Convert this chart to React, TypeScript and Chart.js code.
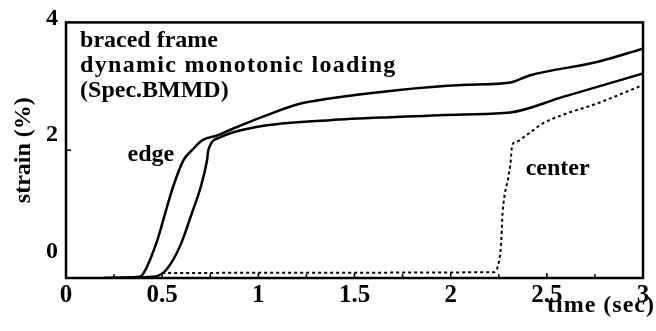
import React, { useEffect, useRef } from "react";
import { Chart, registerables } from "chart.js";

Chart.register(...registerables);

const FONT = "'Liberation Serif', 'Times New Roman', serif";

// tick labels
const xTickValues = [0, 0.5, 1, 1.5, 2, 2.5, 3];
const xMinorTickValues = [0.25, 0.5, 0.75, 1, 1.25, 1.5, 1.75, 2, 2.25, 2.5, 2.75];
const yTickValues = [0, 2, 4];
const yInnerTickValues = [2];

// edge (left solid curve)
const edgeTime = [0.2, 0.38, 0.4, 0.47, 0.525, 0.556, 0.61, 0.655, 0.71, 0.785, 0.87, 1.045, 1.22, 1.37, 1.72, 2.06, 2.31, 2.41, 2.76, 3.0];
const edgeStrain = [0, 0.02, 0.06, 0.55, 1.11, 1.42, 1.84, 2.0, 2.16, 2.23, 2.34, 2.55, 2.73, 2.81, 2.94, 3.02, 3.06, 3.17, 3.38, 3.59];

// second solid curve
const edge2Time = [0.2, 0.45, 0.505, 0.556, 0.6, 0.655, 0.7, 0.733, 0.74, 0.8, 0.87, 1.045, 1.37, 1.72, 2.06, 2.31, 2.58, 3.0];
const edge2Strain = [0, 0.02, 0.08, 0.28, 0.55, 1.02, 1.42, 1.84, 2.0, 2.2, 2.28, 2.39, 2.47, 2.52, 2.56, 2.59, 2.83, 3.2];

// center (dotted curve)
const centerTime = [0.5, 2.22, 2.26, 2.27, 2.3, 2.31, 2.32, 2.34, 2.41, 2.48, 2.58, 2.76, 3.0];
const centerStrain = [0.08, 0.09, 0.44, 1.02, 1.58, 1.77, 2.08, 2.13, 2.27, 2.42, 2.55, 2.73, 3.02];

const noteLines = ["braced frame", "dynamic monotonic loading", "(Spec.BMMD)"];
const noteSpacing = [0, 1.3, 0];
const noteTime = [0.073, 0.073, 0.073];
const noteStrain = [3.61, 3.22, 2.83];
const edgeLabel = { text: "edge", t: 0.32, s: 1.83 };
const centerLabel = { text: "center", t: 2.39, s: 1.61 };

export default function App() {
  const ref = useRef<HTMLCanvasElement>(null);

  useEffect(() => {
    const canvas = ref.current;
    if (!canvas) return;
    const pts = (xs: number[], ys: number[]) => xs.map((x, i) => ({ x, y: ys[i] }));

    const decor = {
      id: "decor",
      afterDatasetsDraw(chart: any) {
        const { ctx, chartArea: a, scales } = chart;
        const xs = scales.x;
        const ys = scales.y;
        ctx.save();
        ctx.strokeStyle = "#000";
        ctx.lineWidth = 2.5;
        ctx.strokeRect(a.left, a.top, a.right - a.left, a.bottom - a.top);
        ctx.lineWidth = 1.5;
        for (const v of xMinorTickValues) {
          const px = xs.getPixelForValue(v);
          const len = Math.abs(v * 2 - Math.round(v * 2)) < 1e-6 ? 5 : 4;
          ctx.beginPath();
          ctx.moveTo(px, a.bottom);
          ctx.lineTo(px, a.bottom - len);
          ctx.stroke();
        }
        for (const v of yInnerTickValues) {
          const py = ys.getPixelForValue(v);
          ctx.beginPath();
          ctx.moveTo(a.left, py);
          ctx.lineTo(a.left + 5, py);
          ctx.stroke();
        }
        ctx.fillStyle = "#000";
        ctx.font = `bold 24px ${FONT}`;
        ctx.textAlign = "left";
        ctx.textBaseline = "alphabetic";
        noteLines.forEach((line, i) => {
          ctx.letterSpacing = `${noteSpacing[i]}px`;
          ctx.fillText(line, xs.getPixelForValue(noteTime[i]), ys.getPixelForValue(noteStrain[i]));
        });
        ctx.letterSpacing = "0px";
        ctx.fillText(edgeLabel.text, xs.getPixelForValue(edgeLabel.t), ys.getPixelForValue(edgeLabel.s));
        ctx.fillText(centerLabel.text, xs.getPixelForValue(centerLabel.t), ys.getPixelForValue(centerLabel.s));
        ctx.textAlign = "right";
        ctx.letterSpacing = "1px";
        ctx.fillText("time (sec)", chart.width - 1, 312);
        ctx.restore();
      },
    };

    const chart = new Chart(canvas, {
      type: "line",
      data: {
        datasets: [
          {
            label: "edge",
            data: pts(edgeTime, edgeStrain),
            borderColor: "#000",
            borderWidth: 2.5,
            pointRadius: 0,
            cubicInterpolationMode: "monotone",
            yAxisID: "y",
          },
          {
            label: "edge 2",
            data: pts(edge2Time, edge2Strain),
            borderColor: "#000",
            borderWidth: 2.5,
            pointRadius: 0,
            cubicInterpolationMode: "monotone",
            yAxisID: "y",
          },
          {
            label: "center",
            data: pts(centerTime, centerStrain),
            borderColor: "#000",
            borderWidth: 2,
            borderDash: [3, 3],
            pointRadius: 0,
            cubicInterpolationMode: "monotone",
            yAxisID: "y",
          },
        ],
      },
      options: {
        animation: false,
        responsive: false,
        maintainAspectRatio: false,
        layout: { padding: { top: 22, right: 13, left: 0, bottom: 0 } },
        plugins: { legend: { display: false }, tooltip: { enabled: false } },
        scales: {
          x: {
            type: "linear",
            min: 0,
            max: 3,
            grid: { display: false, drawTicks: false },
            border: { display: false },
            afterBuildTicks: (s: any) => {
              s.ticks = xTickValues.map((value) => ({ value }));
            },
            afterFit: (s: any) => {
              s.height = 53;
            },
            ticks: {
              color: "#000",
              font: { family: FONT, size: 25, weight: "bold" },
              padding: 3,
              maxRotation: 0,
              autoSkip: false,
              callback: (v: any) => String(v),
            },
          },
          y: {
            type: "linear",
            display: false,
            min: 0,
            max: 4,
          },
          yl: {
            type: "linear",
            position: "left",
            min: -0.38,
            max: 4,
            grid: { display: false, drawTicks: false },
            border: { display: false },
            afterBuildTicks: (s: any) => {
              s.ticks = yTickValues.map((value) => ({ value }));
            },
            afterFit: (s: any) => {
              s.width = 66;
            },
            ticks: {
              color: "#000",
              font: { family: FONT, size: 24, weight: "bold" },
              padding: 8,
              labelOffset: -4,
              callback: (v: any) => String(v),
            },
            title: {
              display: true,
              text: "strain (%)",
              color: "#000",
              font: { family: FONT, size: 24, weight: "bold" },
              padding: { top: 9, bottom: 0 },
            },
          },
        },
      },
      plugins: [decor],
    } as any);

    return () => chart.destroy();
  }, []);

  return (
    <div style={{ position: "absolute", left: 0, top: 0, width: 656, height: 331, background: "#fff" }}>
      <canvas ref={ref} width={656} height={331} />
    </div>
  );
}
